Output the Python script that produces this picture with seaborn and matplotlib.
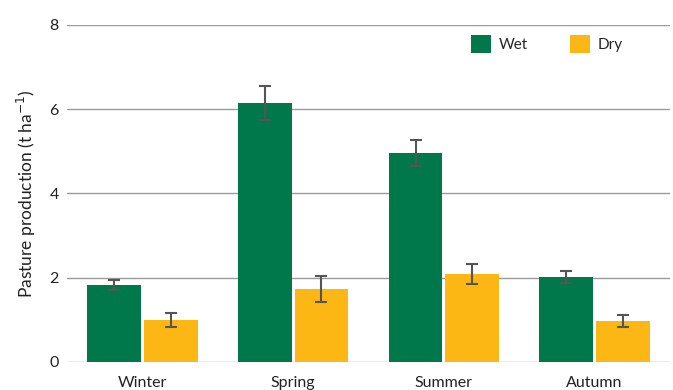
import matplotlib
matplotlib.use("Agg")
import matplotlib.pyplot as plt
import seaborn as sns
import pandas as pd

seasons = ["Winter", "Spring", "Summer", "Autumn"]
treatments = ["Wet", "Dry"]
wet_mean = [1.82, 6.15, 4.96, 2.02]
dry_mean = [1.00, 1.73, 2.09, 0.97]
wet_err = [0.12, 0.41, 0.31, 0.145]
dry_err = [0.16, 0.30, 0.245, 0.145]

colors = {"Wet": "#00784B", "Dry": "#FDB714"}

df = pd.DataFrame({
    "season": seasons * 2,
    "treatment": ["Wet"] * 4 + ["Dry"] * 4,
    "value": wet_mean + dry_mean,
    "err": wet_err + dry_err,
})

sns.set_theme(style="white")
plt.rcParams["font.family"] = ["Lato", "DejaVu Sans"]

fig = plt.figure(figsize=(6.73, 3.9), dpi=100)
ax = fig.add_axes([0.0996, 0.0718, 0.8959, 0.8641])

sns.barplot(data=df, x="season", y="value", hue="treatment",
            order=seasons, hue_order=treatments, palette=colors,
            width=0.75, gap=0.05, errorbar=None, saturation=1,
            linewidth=0, ax=ax, zorder=3)

# error bars at the centre of each drawn bar
for cont, tr in zip(ax.containers, treatments):
    sub = df[df["treatment"] == tr].set_index("season").loc[seasons]
    xs = [p.get_x() + p.get_width() / 2 for p in cont.patches]
    ax.errorbar(xs, sub["value"], yerr=sub["err"], fmt="none",
                ecolor="#555555", elinewidth=1.5, capsize=4.5,
                capthick=1.5, zorder=4)

ax.set_ylim(0, 8)
ax.set_xlim(-0.5, 3.5)
ax.set_yticks([0, 2, 4, 6, 8])
ax.yaxis.grid(True, color="#9a9a9a", linewidth=1.0, zorder=0)
ax.set_axisbelow(True)
for s in ax.spines.values():
    s.set_visible(False)
ax.tick_params(axis="y", length=0, pad=6, labelsize=11.5, labelcolor="#222222")
ax.tick_params(axis="x", length=0, pad=10, labelsize=11.5, labelcolor="#222222")
ax.set_xlabel("")
ax.set_ylabel("Pasture production (t ha$^{-1}$)", fontsize=12.5, color="#222222", labelpad=8)

leg = ax.legend(loc="upper right", bbox_to_anchor=(0.945, 1.01), ncol=2, frameon=False,
                fontsize=11, handlelength=1.3, handleheight=1.4,
                columnspacing=2.8, handletextpad=0.5)

fig.savefig("out.png", dpi=100)
